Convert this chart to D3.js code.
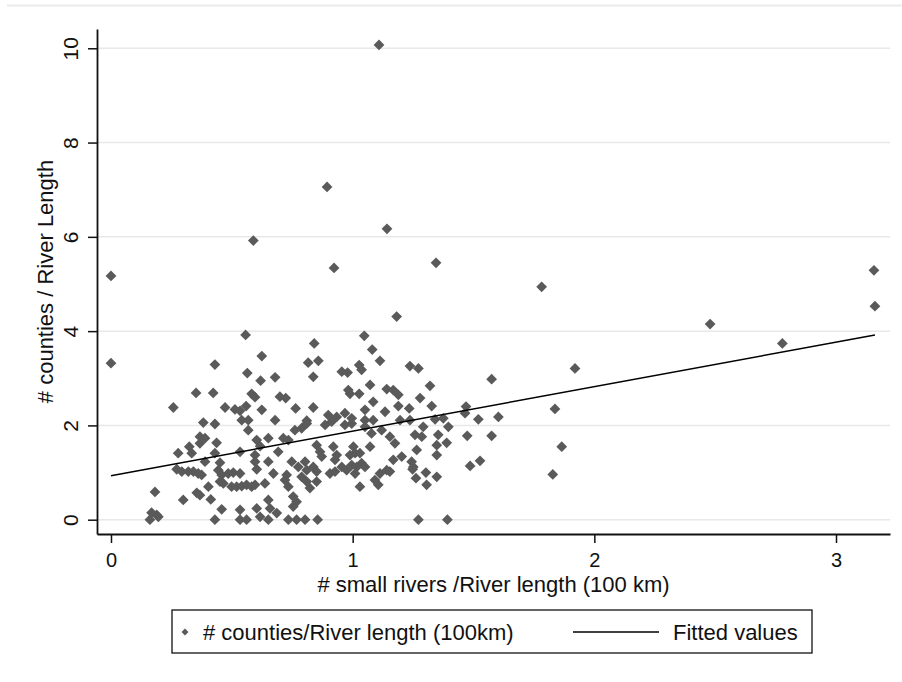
<!DOCTYPE html>
<html>
<head>
<meta charset="utf-8">
<script src="https://cdn.jsdelivr.net/npm/d3@7"></script>
<style>
  body { margin: 0; background: #fff; }
  svg text { font-family: "Liberation Sans", Arial, sans-serif; fill: #111; }
</style>
</head>
<body>
<div id="chart"></div>
<script>
// --> DATA (x = small rivers per 100 km, y = counties per 100 km)
var outlierPoints = [
  [0.00,5.17],[0.00,3.32],[1.109,10.07],[0.894,7.06],[0.589,5.92],[1.142,6.17],[0.923,5.34],
  [1.345,5.45],[1.782,4.94],[1.182,4.31],[2.479,4.15],[2.778,3.74],[3.161,4.53],[3.157,5.29],
  [1.920,3.21],[1.837,2.35],[1.865,1.55],[1.828,0.96]
];

var rightPoints = [
  [1.575,2.98],[1.603,2.18],[1.575,1.78],[1.520,2.13],[1.469,2.40],[1.465,2.26],[1.474,1.78],
  [1.486,1.14],[1.527,1.25],[1.320,2.84],[1.237,3.26],[1.272,3.21],[1.168,2.75],[1.189,2.65],
  [1.279,2.58],[1.189,2.41],[1.234,2.36],[1.327,2.41],[1.196,2.11],[1.237,2.11],[1.341,2.13],
  [1.375,2.15],[1.396,1.97],[1.292,1.97],[1.258,1.80],[1.286,1.76],[1.354,1.80],[1.154,1.76],
  [1.175,1.62],[1.348,1.58],[1.389,1.63],[1.265,1.48],[1.348,1.37],[1.168,1.27],[1.203,1.34],
  [1.244,1.23],[1.251,1.12],[1.248,1.07],[1.154,1.02],[1.303,1.00],[1.262,0.88],[1.348,0.91],
  [1.306,0.74],[1.272,0],[1.392,0]
];

var middlePoints = [
  [1.048,3.90],[0.841,3.74],[1.081,3.61],[0.816,3.33],[0.858,3.37],[1.113,3.37],[1.027,3.28],
  [1.037,3.18],[0.679,3.02],[0.837,3.03],[0.955,3.14],[0.979,3.12],[1.072,2.86],[1.141,2.77],
  [0.982,2.75],[0.989,2.67],[1.027,2.67],[0.699,2.61],[0.723,2.58],[1.085,2.50],[0.764,2.36],
  [0.837,2.38],[1.051,2.33],[1.134,2.29],[0.679,2.11],[0.810,2.10],[0.899,2.22],[0.934,2.18],
  [0.968,2.26],[0.996,2.15],[1.051,2.11],[1.085,2.11],[0.761,1.90],[0.789,1.94],[0.810,2.04],
  [0.886,2.01],[0.913,2.08],[0.968,2.01],[0.996,2.04],[1.051,1.97],[1.078,1.83],[1.120,1.90],
  [0.651,1.73],[0.713,1.73],[0.734,1.69],[0.692,1.44],[0.851,1.58],[0.865,1.44],[0.872,1.34],
  [0.920,1.55],[0.934,1.37],[0.927,1.27],[1.003,1.55],[1.010,1.41],[0.989,1.37],[1.030,1.41],
  [1.037,1.20],[0.996,1.16],[1.072,1.55],[0.651,1.23],[0.748,1.23],[0.775,1.12],[0.803,1.23],
  [0.810,1.05],[0.837,1.12],[0.851,1.02],[0.955,1.12],[0.975,1.05],[1.017,1.12],[1.051,1.12],
  [1.010,0.98],[0.672,0.98],[0.906,0.98],[0.927,1.02],[1.113,0.98],[1.141,1.05],[0.727,0.95],
  [0.720,0.84],[0.734,0.70],[0.789,0.91],[0.810,0.81],[0.823,0.67],[0.851,0.81],[1.092,0.84],
  [1.106,0.74],[0.637,0.77],[1.030,0.70],[0.754,0.49],[0.768,0.38],[0.754,0.28],[0.651,0.42],
  [0.658,0.24],[0.686,0.14],[0.651,0],[0.734,0],[0.768,0],[0.803,0],[0.855,0]
];

var leftPoints = [
  [0.557,3.92],[0.624,3.47],[0.430,3.29],[0.564,3.11],[0.619,2.95],[0.352,2.69],[0.423,2.69],
  [0.582,2.67],[0.596,2.60],[0.258,2.38],[0.472,2.38],[0.513,2.34],[0.534,2.31],[0.559,2.41],
  [0.624,2.33],[0.541,2.11],[0.568,2.11],[0.382,2.06],[0.430,2.03],[0.368,1.76],[0.389,1.73],
  [0.437,1.63],[0.368,1.62],[0.568,1.90],[0.603,1.69],[0.324,1.55],[0.334,1.41],[0.278,1.41],
  [0.430,1.41],[0.534,1.44],[0.617,1.56],[0.596,1.37],[0.596,1.23],[0.389,1.23],[0.451,1.21],
  [0.272,1.07],[0.293,1.02],[0.320,1.02],[0.341,1.02],[0.361,0.98],[0.375,0.95],[0.444,1.05],
  [0.458,0.95],[0.485,0.98],[0.506,1.00],[0.534,0.98],[0.603,1.07],[0.451,0.81],[0.465,0.77],
  [0.499,0.70],[0.520,0.70],[0.541,0.71],[0.561,0.74],[0.582,0.70],[0.596,0.74],[0.403,0.70],
  [0.182,0.59],[0.355,0.57],[0.368,0.52],[0.413,0.43],[0.299,0.42],[0.458,0.22],[0.603,0.24],
  [0.534,0.21],[0.168,0.15],[0.189,0.10],[0.161,0],[0.196,0.06],[0.430,0],[0.534,0],
  [0.561,0],[0.617,0.06]
];

// fitted values line (end points at min / max of x)
var fittedLine = [[0, 0.934], [3.161, 3.917]];

var xTicks = [0, 1, 2, 3];
var yTicks = [0, 2, 4, 6, 8, 10];
var xTitle = "# small rivers /River length (100 km)";
var yTitle = "# counties / River Length";
var legendLabels = ["# counties/River length (100km)", "Fitted values"];

var allPoints = outlierPoints.concat(rightPoints, middlePoints, leftPoints);

// --> SVG DRAWING AREA
var width = 902, height = 682;
var plot = { left: 97, right: 890, top: 29, bottom: 534 };
var markerColor = "#5a5a5a";

var svg = d3.select("#chart").append("svg")
    .attr("width", width)
    .attr("height", height);

svg.append("rect")
    .attr("width", width)
    .attr("height", height)
    .attr("fill", "#fff");

// faint outer frame at top of the graph region
svg.append("line")
    .attr("x1", 7).attr("x2", width)
    .attr("y1", 5.5).attr("y2", 5.5)
    .attr("stroke", "#ebebeb")
    .attr("stroke-width", 2);

// scales: 0 -> 111px, 3 -> 836px ; 0 -> 519.7px, 10 -> 48.3px
var x = d3.scaleLinear()
    .domain([-0.0579, 3.2234])
    .range([plot.left, plot.right]);

var y = d3.scaleLinear()
    .domain([-0.3033, 10.409])
    .range([plot.bottom, plot.top]);

// grid lines
svg.append("g")
    .selectAll("line")
    .data(yTicks)
  .enter().append("line")
    .attr("x1", plot.left).attr("x2", plot.right)
    .attr("y1", d => y(d)).attr("y2", d => y(d))
    .attr("stroke", "#e8e8e8")
    .attr("stroke-width", 1.5);

// fitted line
var line = d3.line()
    .x(d => x(d[0]))
    .y(d => y(d[1]));

// scatter markers (diamonds = rotated squares)
var diamond = d3.symbol().type(d3.symbolSquare).size(58);

svg.append("g")
    .selectAll("path")
    .data(allPoints)
  .enter().append("path")
    .attr("d", diamond)
    .attr("transform", d => "translate(" + x(d[0]) + "," + y(d[1]) + ") rotate(45)")
    .attr("fill", markerColor);

svg.append("path")
    .datum(fittedLine)
    .attr("d", line)
    .attr("fill", "none")
    .attr("stroke", "#000")
    .attr("stroke-width", 1.5);

// x axis
var xAxis = svg.append("g")
    .attr("transform", "translate(0," + plot.bottom + ")")
    .call(d3.axisBottom(x).tickValues(xTicks).tickSize(9).tickSizeOuter(0).tickFormat(d3.format("d")));

xAxis.select(".domain").attr("stroke", "#111").attr("stroke-width", 1.8);
xAxis.selectAll(".tick line").attr("stroke", "#111").attr("stroke-width", 1.5);
xAxis.selectAll(".tick text")
    .attr("y", 33)
    .attr("dy", 0)
    .style("font-size", "20px")
    .attr("fill", "#111");

// y axis
var yAxis = svg.append("g")
    .attr("transform", "translate(" + plot.left + ",0)")
    .call(d3.axisLeft(y).tickValues(yTicks).tickSize(9).tickSizeOuter(0).tickFormat(d3.format("d")));

yAxis.select(".domain").attr("stroke", "#111").attr("stroke-width", 1.8);
yAxis.selectAll(".tick line").attr("stroke", "#111").attr("stroke-width", 1.5);
yAxis.selectAll(".tick text")
    .attr("transform", "rotate(-90)")
    .attr("x", 0)
    .attr("y", -19)
    .attr("dy", 0)
    .attr("text-anchor", "middle")
    .style("font-size", "21px")
    .attr("fill", "#111");

svg.selectAll("g").attr("font-family", null).attr("font-size", null);

// axis titles
svg.append("text")
    .attr("x", (plot.left + plot.right) / 2)
    .attr("y", 592)
    .attr("text-anchor", "middle")
    .style("font-size", "22px")
    .text(xTitle);

svg.append("text")
    .attr("transform", "translate(53," + (plot.top + plot.bottom) / 2 + ") rotate(-90)")
    .attr("text-anchor", "middle")
    .style("font-size", "22px")
    .text(yTitle);

// --> LEGEND
var legend = svg.append("g").attr("class", "legend");

legend.append("rect")
    .attr("x", 172).attr("y", 610)
    .attr("width", 640).attr("height", 43)
    .attr("fill", "#fff")
    .attr("stroke", "#111")
    .attr("stroke-width", 1.3);

legend.append("path")
    .attr("d", d3.symbol().type(d3.symbolSquare).size(24))
    .attr("transform", "translate(185,632) rotate(45)")
    .attr("fill", markerColor);

legend.append("text")
    .attr("x", 203).attr("y", 640)
    .style("font-size", "22px")
    .text(legendLabels[0]);

legend.append("line")
    .attr("x1", 573).attr("x2", 659)
    .attr("y1", 632).attr("y2", 632)
    .attr("stroke", "#000")
    .attr("stroke-width", 1.5);

legend.append("text")
    .attr("x", 673).attr("y", 640)
    .style("font-size", "22px")
    .text(legendLabels[1]);
</script>
</body>
</html>
